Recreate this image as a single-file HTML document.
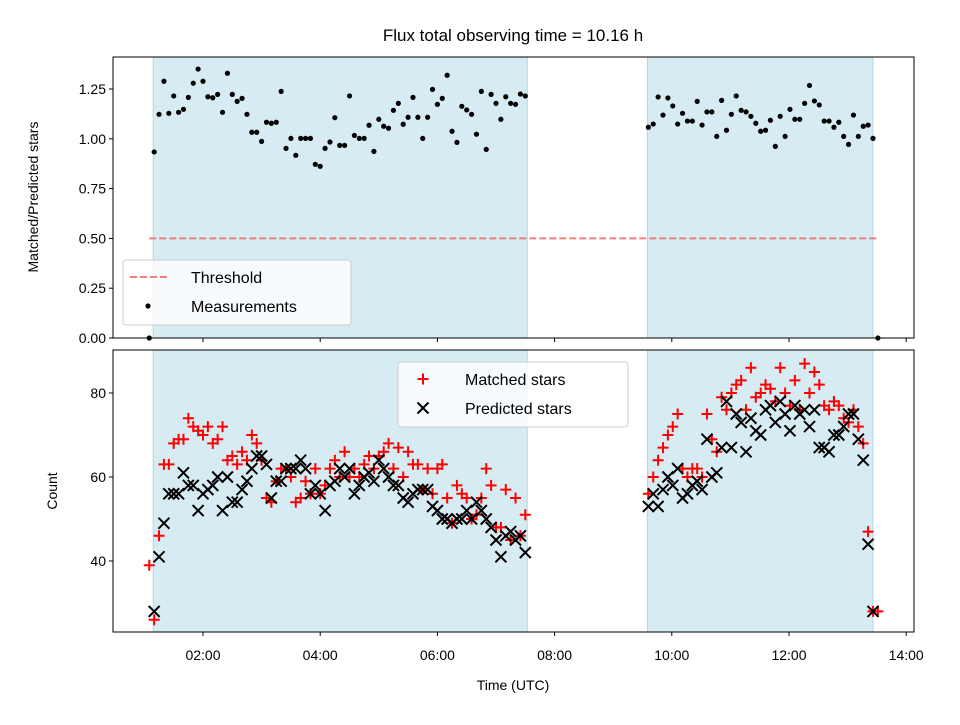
<!DOCTYPE html>
<html><head><meta charset="utf-8"><style>
body{margin:0;background:#fff;}
svg text{font-family:"Liberation Sans","DejaVu Sans",sans-serif;fill:#000;}
</style></head><body>
<svg id="chart" width="960" height="720" xmlns="http://www.w3.org/2000/svg">
<rect width="960" height="720" fill="#fff"/>
<text x="513" y="41" font-size="17" text-anchor="middle">Flux total observing time = 10.16 h</text>
<g id="topPanel"></g>
<g id="botPanel"></g>
<text transform="translate(38,197) rotate(-90)" font-size="14" text-anchor="middle">Matched/Predicted stars</text>
<text transform="translate(57,491) rotate(-90)" font-size="14" text-anchor="middle">Count</text>
<text x="513" y="690" font-size="14" text-anchor="middle">Time (UTC)</text>
</svg>
<script>
// times in minutes since 00:00 UTC
const seg1Start = 70, seg2Start = 576, stepMin = 5;
const ratio1 = [0.934,1.123,1.289,1.128,1.215,1.133,1.148,1.208,1.279,1.350,1.289,1.211,1.206,1.223,1.133,1.329,1.223,1.188,1.203,1.123,1.033,1.033,0.987,1.083,1.078,1.083,1.238,0.952,1.002,0.917,1.002,1.002,1.002,0.872,0.862,0.952,0.984,1.106,0.967,0.967,1.215,1.017,1.002,1.002,1.068,0.937,1.098,1.063,1.053,1.143,1.178,1.073,1.108,1.208,1.108,1.002,1.108,1.248,1.173,1.203,1.319,1.038,0.982,1.163,1.145,1.123,1.023,1.238,0.947,1.223,1.178,1.098,1.211,1.178,1.173,1.225,1.215];
const ratio2 = [1.058,1.074,1.210,1.119,1.205,1.165,1.074,1.128,1.089,1.089,1.188,1.069,1.135,1.135,1.012,1.193,1.043,1.123,1.215,1.143,1.135,1.113,1.078,1.038,1.043,1.093,0.962,1.113,1.012,1.148,1.098,1.098,1.178,1.268,1.190,1.170,1.089,1.089,1.058,1.083,1.012,0.972,1.119,1.012,1.063,1.069,1.002];
const pred1 = [28,41,49,56,56,56,61,58,58,52,56,57,58,60,52,60,54,54,57,59,62,65,65,63,55,59,59,62,62,62,64,62,56,58,56,52,58,59,62,60,62,56,58,60,61,59,64,62,60,58,58,55,54,56,57,57,57,53,52,50,50,49,50,50,52,50,54,52,50,48,45,41,46,47,45,46,42];
const match1 = [26,46,63,63,68,69,69,74,72,71,70,72,68,69,72,64,65,63,66,64,70,68,64,55,54,59,62,62,60,54,55,59,56,62,56,58,62,64,60,66,60,62,60,63,65,62,65,66,68,62,67,60,66,63,63,57,62,56,62,63,55,49,58,56,55,50,51,55,62,58,48,48,57,45,55,46,51];
const pred2 = [53,56,53,57,60,58,62,55,56,58,59,57,69,60,61,67,78,67,75,73,66,74,71,70,76,77,73,78,75,71,77,75,76,72,76,67,67,66,70,70,72,75,75,69,64,44,28];
const match2 = [56,60,64,67,70,72,75,62,60,62,62,60,75,69,66,79,76,80,82,83,76,86,79,80,82,81,78,86,80,77,83,76,87,80,85,82,77,76,78,77,74,73,76,72,68,47,28];
const extraTimes = [65,811];
const extraRatio = [0,0];
const extraMatch = [39,28];
const shadedStart = [69, 575];
const shadedEnd = [452, 806];
const threshold = 0.5;
const xTicks = [120,240,360,480,600,720,840];
const xTickLabels = ["02:00","04:00","06:00","08:00","10:00","12:00","14:00"];
const topTicks = [0,0.25,0.5,0.75,1.0,1.25];
const topTickLabels = ["0.00","0.25","0.50","0.75","1.00","1.25"];
const botTicks = [40,60,80];

const NS="http://www.w3.org/2000/svg";
const L=113,R=914;
const T1=57,B1=338,T2=350,B2=632;
const xs = m => 85.8 + m/60*58.6;
const ys1 = v => 338 - v*199.2;
const ys2 = v => 561 - (v-40)*4.2;
function mk(par,tag,attrs){const e=document.createElementNS(NS,tag);for(const k in attrs)e.setAttribute(k,attrs[k]);par.appendChild(e);return e;}
const topG=document.getElementById('topPanel'), botG=document.getElementById('botPanel');

function panel(g,T,B){
  for(let i=0;i<shadedStart.length;i++){
    const r=mk(g,'rect',{x:xs(shadedStart[i]),y:T,width:xs(shadedEnd[i])-xs(shadedStart[i]),height:B-T,fill:'#add8e6','fill-opacity':0.5,stroke:'#add8e6','stroke-width':1});
    
    
  }
}
panel(topG,T1,B1);panel(botG,T2,B2);

const th=mk(topG,'line',{x1:xs(extraTimes[0]),x2:xs(extraTimes[1]),y1:ys1(threshold),y2:ys1(threshold),stroke:'#f08080','stroke-width':2,'stroke-dasharray':'7,3'});



function dot(m,v){const c=mk(topG,'circle',{cx:xs(m),cy:ys1(v),r:2.6,fill:'#000'});

}
ratio1.forEach((v,i)=>dot(seg1Start+i*stepMin,v));
ratio2.forEach((v,i)=>dot(seg2Start+i*stepMin,v));
extraRatio.forEach((v,i)=>dot(extraTimes[i],v));

function plus(m,v){const x=xs(m),y=ys2(v);const p=mk(botG,'path',{d:`M${x-5.5},${y}H${x+5.5}M${x},${y-5.5}V${y+5.5}`,stroke:'#f00','stroke-width':2});

}
function cross(m,v){const x=xs(m),y=ys2(v);const p=mk(botG,'path',{d:`M${x-5.5},${y-5.5}L${x+5.5},${y+5.5}M${x-5.5},${y+5.5}L${x+5.5},${y-5.5}`,stroke:'#000','stroke-width':2});

}
match1.forEach((v,i)=>plus(seg1Start+i*stepMin,v));
match2.forEach((v,i)=>plus(seg2Start+i*stepMin,v));
extraMatch.forEach((v,i)=>plus(extraTimes[i],v));
pred1.forEach((v,i)=>cross(seg1Start+i*stepMin,v));
pred2.forEach((v,i)=>cross(seg2Start+i*stepMin,v));

function frame(g,T,B,yticks,ylabels,yfn,xlabels){
  const f=mk(g,'rect',{x:L,y:T,width:R-L,height:B-T,fill:'none',stroke:'#000','stroke-width':1});
  
  
  yticks.forEach((v,i)=>{const y=yfn(v);mk(g,'line',{x1:L-4,x2:L,y1:y,y2:y,stroke:'#000'});
    const t=mk(g,'text',{x:L-7,y:y+5,'font-size':14,'text-anchor':'end'});t.textContent=ylabels[i];
    
    });
  xTicks.forEach((m,i)=>{const x=xs(m);mk(g,'line',{x1:x,x2:x,y1:B,y2:B+4,stroke:'#000'});
    if(xlabels){const t=mk(g,'text',{x:x,y:B+28,'font-size':14,'text-anchor':'middle'});t.textContent=xTickLabels[i];
    
    }});
}
frame(topG,T1,B1,topTicks,topTickLabels,ys1,false);
frame(botG,T2,B2,botTicks,botTicks.map(String),ys2,true);

function legend(g,x,y,w,h,items){
  const b=mk(g,'rect',{x:x,y:y,width:w,height:h,rx:3,fill:'#fff','fill-opacity':0.8,stroke:'#ccc'});
  
  
  items.forEach((it,i)=>{const cy=y+17+i*29;
    const gg=mk(g,'g',{});
    
    
    const sx=x+25;
    if(it.key==='threshold')mk(gg,'line',{x1:sx-18,x2:sx+22,y1:cy,y2:cy,stroke:'#f08080','stroke-width':2,'stroke-dasharray':'7,3'});
    if(it.key==='measurements')mk(gg,'circle',{cx:sx,cy:cy,r:2.6,fill:'#000'});
    if(it.key==='matched')mk(gg,'path',{d:`M${sx-5.5},${cy}H${sx+5.5}M${sx},${cy-5.5}V${cy+5.5}`,stroke:'#f00','stroke-width':2});
    if(it.key==='predicted')mk(gg,'path',{d:`M${sx-5.5},${cy-5.5}L${sx+5.5},${cy+5.5}M${sx-5.5},${cy+5.5}L${sx+5.5},${cy-5.5}`,stroke:'#000','stroke-width':2});
    const t=mk(gg,'text',{x:x+it.tx,y:cy+6,'font-size':16});t.textContent=it.label;});
}
legend(topG,123,260,228,65,[{key:'threshold',label:'Threshold',tx:68},{key:'measurements',label:'Measurements',tx:68}]);
legend(botG,398,362,230,65,[{key:'matched',label:'Matched stars',tx:67},{key:'predicted',label:'Predicted stars',tx:67}]);
</script>
</body></html>
